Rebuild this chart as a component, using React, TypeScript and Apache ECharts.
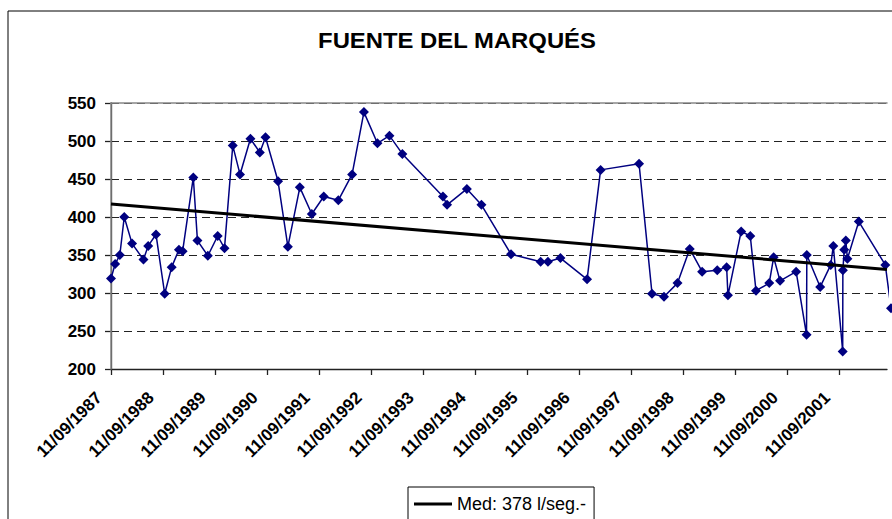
import React, { useEffect, useRef } from 'react';
import * as echarts from 'echarts';

const TITLE = 'FUENTE DEL MARQUÉS';
const LEGEND_LABEL = 'Med: 378 l/seg.-';
const SERIES_NAME = 'Caudal';
const FONT = '"Liberation Sans", Arial, sans-serif';

// Axis runs from 11/09/1987; one major tick per year
const AXIS_START = '1987-09-11';
const AXIS_END = '2002-08-12';
const FIRST_TICK_YEAR = 1987;
const LAST_TICK_YEAR = 2001;

const Y_MIN = 200;
const Y_MAX = 550;
const Y_STEP = 50;

const sampleDates = [
  '1987-09-11', '1987-10-10', '1987-11-12', '1987-12-13', '1988-02-06', '1988-04-26',
  '1988-05-29', '1988-07-23', '1988-09-22', '1988-11-10', '1988-12-31', '1989-01-26',
  '1989-04-11', '1989-05-10', '1989-07-22', '1989-09-29', '1989-11-16', '1990-01-13',
  '1990-03-05', '1990-05-17', '1990-07-22', '1990-08-31', '1990-11-27', '1991-02-04',
  '1991-04-29', '1991-07-22', '1991-10-14', '1992-01-24', '1992-04-30', '1992-07-22',
  '1992-10-25', '1993-01-17', '1993-04-18', '1994-01-28', '1994-02-26', '1994-07-15',
  '1994-10-25', '1995-05-21', '1995-12-15', '1996-02-04', '1996-05-02', '1996-11-05',
  '1997-02-08', '1997-11-05', '1998-02-04', '1998-04-29', '1998-08-02', '1998-10-27',
  '1999-01-22', '1999-05-08', '1999-07-13', '1999-07-22', '1999-10-23', '1999-12-26',
  '2000-02-04', '2000-05-07', '2000-06-07', '2000-07-22', '2000-11-12', '2001-01-24',
  '2001-01-26', '2001-04-30', '2001-07-13', '2001-07-31', '2001-10-05', '2001-10-06',
  '2001-10-16', '2001-10-27', '2001-11-07', '2002-01-26', '2002-07-31', '2002-09-09',
];

const flowValues = [
  319, 338, 350, 400, 365, 344,
  362, 377, 299, 334, 357, 355,
  452, 369, 349, 375, 359, 494,
  456, 503, 485, 505, 447, 361,
  439, 404, 427, 422, 456, 538,
  497, 507, 483, 427, 416, 437,
  416, 351, 341, 341, 346, 318,
  462, 470, 299, 295, 313, 358,
  328, 330, 334, 297, 381, 375,
  303, 313, 347, 316, 328, 245,
  350, 308, 337, 362, 223, 330,
  357, 369, 345, 394, 337, 280,
];

const trendDates = ['1987-09-11', '2002-08-12'];
const trendValues = [417, 331];

const DAY = 86400000;
const toYears = (d: string) =>
  (Date.parse(d) - Date.parse(AXIS_START)) / (365.25 * DAY);

export default function App() {
  const ref = useRef<HTMLDivElement>(null);

  useEffect(() => {
    if (!ref.current) return;
    const chart = echarts.init(ref.current, undefined, { renderer: 'svg' });
    const xMax = toYears(AXIS_END);
    const lastTick = LAST_TICK_YEAR - FIRST_TICK_YEAR;

    const flowData = sampleDates.map((d, i) => [toYears(d), flowValues[i]]);
    const trendData = trendDates.map((d, i) => [toYears(d), trendValues[i]]);

    chart.setOption({
      animation: false,
      backgroundColor: '#fff',
      graphic: [
        {
          type: 'rect',
          shape: { x: 8, y: 11, width: 1000, height: 1000 },
          style: { fill: 'none', stroke: '#000', lineWidth: 1 },
          silent: true,
        },
        {
          type: 'text',
          x: 457,
          y: 40,
          scaleX: 1.11,
          style: {
            text: TITLE,
            fontSize: 21.5,
            fontWeight: 'bold',
            fontFamily: FONT,
            fill: '#000',
            textAlign: 'center',
            textVerticalAlign: 'middle',
          },
        },
      ],
      legend: {
        show: true,
        data: [LEGEND_LABEL],
        left: 408,
        top: 487,
        orient: 'horizontal',
        icon: 'rect',
        itemWidth: 38,
        itemHeight: 3,
        borderColor: '#000',
        borderWidth: 1,
        borderRadius: 0,
        padding: [8, 8, 8, 6],
        textStyle: { fontSize: 18, fontFamily: FONT, color: '#000' },
      },
      grid: { left: 111, right: 5, top: 103, bottom: 150, containLabel: false },
      xAxis: [
        {
          type: 'value',
          min: 0,
          max: xMax,
          interval: 1,
          axisLine: { show: true, lineStyle: { color: '#222', width: 1.3 } },
          axisTick: { show: true, inside: false, length: 6, lineStyle: { color: '#222', width: 1.3 } },
          splitLine: { show: false },
          axisLabel: {
            show: true,
            rotate: 45,
            margin: 14,
            padding: [0, 17, 0, 0],
            fontSize: 17,
            fontWeight: 'bold',
            fontFamily: FONT,
            color: '#000',
            showMaxLabel: false,
            formatter: (v: number) => {
              const r = Math.round(v);
              return Math.abs(v - r) < 1e-6 && r >= 0 && r <= lastTick
                ? `11/09/${FIRST_TICK_YEAR + r}`
                : '';
            },
          },
        },
        {
          type: 'value',
          position: 'top',
          min: 0,
          max: xMax,
          z: 3,
          axisLine: { show: true, lineStyle: { color: '#888', width: 1.5 } },
          axisTick: { show: false },
          axisLabel: { show: false },
          splitLine: { show: false },
        },
      ],
      yAxis: [
        {
          type: 'value',
          min: Y_MIN,
          max: Y_MAX,
          interval: Y_STEP,
          axisLine: { show: true, lineStyle: { color: '#222', width: 1.3 } },
          axisTick: { show: true, inside: false, length: 6, lineStyle: { color: '#222', width: 1.3 } },
          axisLabel: {
            margin: 15,
            fontSize: 17,
            fontWeight: 'bold',
            fontFamily: FONT,
            color: '#000',
          },
          splitLine: { show: true, lineStyle: { color: '#222', type: [8, 5], width: 1 } },
        },
        {
          type: 'value',
          position: 'right',
          min: Y_MIN,
          max: Y_MAX,
          z: 3,
          axisLine: { show: true, lineStyle: { color: '#888', width: 1.5 } },
          axisTick: { show: false },
          axisLabel: { show: false },
          splitLine: { show: false },
        },
      ],
      series: [
        {
          name: SERIES_NAME,
          type: 'line',
          xAxisIndex: 0,
          yAxisIndex: 0,
          data: flowData,
          clip: false,
          color: '#000080',
          lineStyle: { color: '#000080', width: 1.5 },
          itemStyle: { color: '#000080' },
          symbol: 'diamond',
          symbolSize: 10,
          z: 3,
        },
        {
          name: LEGEND_LABEL,
          type: 'line',
          xAxisIndex: 0,
          yAxisIndex: 0,
          data: trendData,
          color: '#000',
          lineStyle: { color: '#000', width: 3 },
          itemStyle: { color: '#000' },
          symbol: 'none',
          z: 4,
        },
      ],
    });

    return () => chart.dispose();
  }, []);

  return (
    <div
      ref={ref}
      style={{ position: 'fixed', left: 0, top: 0, width: 892, height: 519 }}
    />
  );
}
